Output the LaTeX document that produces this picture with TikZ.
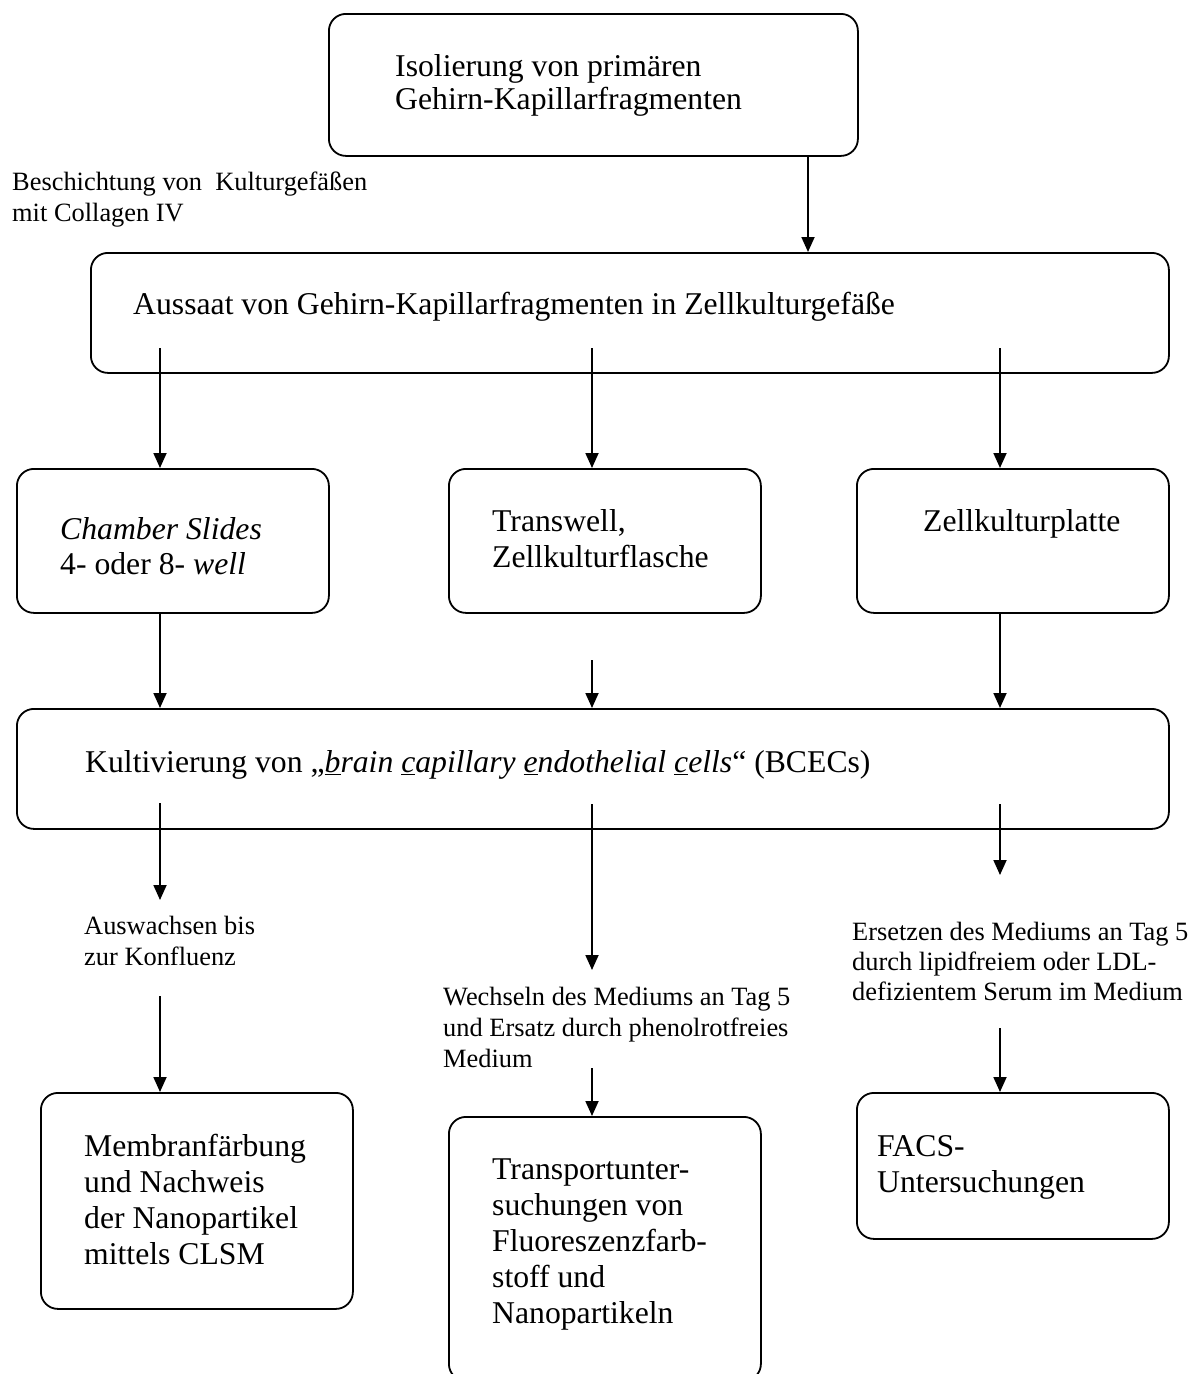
\documentclass[tikz,border=0pt]{standalone}
\usepackage{fontspec}
\setmainfont{Liberation Serif}
\usetikzlibrary{arrows.meta}
\begin{document}
\begin{tikzpicture}[x=1pt,y=-1pt,
  box/.style={draw, line width=1.8pt, rounded corners=17pt, inner sep=0pt, anchor=north west},
  big/.style={inner sep=0pt, anchor=base west, align=left, font=\fontsize{31.7}{36}\selectfont},
  small/.style={inner sep=0pt, anchor=base west, align=left, font=\fontsize{26.4}{31}\selectfont},
  arr/.style={line width=1.8pt, -{Triangle[length=15pt,width=13pt]}}]
\clip (0,0) rectangle (1202,1374);
\fill[white] (0,0) rectangle (1202,1374);
% boxes
\node[box, minimum width=529pt, minimum height=142pt] (iso) at (328,13) {};
\node[box, minimum width=1078pt, minimum height=120pt] (aus) at (90,252) {};
\node[box, minimum width=312pt, minimum height=144pt] (cham) at (16,468) {};
\node[box, minimum width=312pt, minimum height=144pt] (trw) at (448,468) {};
\node[box, minimum width=312pt, minimum height=144pt] (zell) at (856,468) {};
\node[box, minimum width=1152pt, minimum height=120pt] (kult) at (16,708) {};
\node[box, minimum width=312pt, minimum height=216pt] (memb) at (40,1092) {};
\node[box, minimum width=312pt, minimum height=264pt] (trans) at (448,1116) {};
\node[box, minimum width=312pt, minimum height=146pt] (facs) at (856,1092) {};
% texts (anchor = baseline of the last line)
\node[big, font=\fontsize{31.7}{33}\selectfont] (tiso) at (395,109) {Isolierung von primären\\Gehirn-Kapillarfragmenten};
\node[small] (tbes) at (12,221) {Beschichtung von\ \ Kulturgefäßen\\mit Collagen IV};
\node[big] (taus) at (133,314) {Aussaat von Gehirn-Kapillarfragmenten in Zellkulturgefäße};
\node[big, font=\fontsize{31.7}{35}\selectfont] (tcham) at (60,574) {\textit{Chamber Slides}\\4- oder 8- \textit{well}};
\node[big] (ttrw) at (492,567) {Transwell,\\Zellkulturflasche};
\node[big] (tzell) at (923,531) {Zellkulturplatte};
\node[big] (tkult) at (85,772) {Kultivierung von „\textit{\underline{b}rain \underline{c}apillary \underline{e}ndothelial \underline{c}ells}“ (BCECs)};
\node[small] (taus2) at (84,965) {Auswachsen bis\\zur Konfluenz};
\node[small] (twech) at (443,1067) {Wechseln des Mediums an Tag 5\\und Ersatz durch phenolrotfreies\\Medium};
\node[small, font=\fontsize{26.4}{30}\selectfont] (ters) at (852,1000) {Ersetzen des Mediums an Tag 5\\durch lipidfreiem oder LDL-\\defizientem Serum im Medium};
\node[big] (tmemb) at (84,1264) {Membranfärbung\\und Nachweis\\der Nanopartikel\\mittels CLSM};
\node[big] (ttrans) at (492,1323) {Transportunter-\\suchungen von\\Fluoreszenzfarb-\\stoff und\\Nanopartikeln};
\node[big] (tfacs) at (877,1192) {FACS-\\Untersuchungen};
% connector helper coordinates
\coordinate (xa) at (808,0);
\coordinate (xl) at (160,0);
\coordinate (xm) at (592,0);
\coordinate (xr) at (1000,0);
\coordinate (s1) at (160,348);
\coordinate (s2) at (592,348);
\coordinate (s3) at (1000,348);
\coordinate (m1) at (592,660);
\coordinate (k1) at (160,803);
\coordinate (k2) at (592,804);
\coordinate (k3) at (1000,804);
\coordinate (e1) at (160,900);
\coordinate (e2) at (592,970);
\coordinate (e3) at (1000,875);
\coordinate (b1) at (160,996);
\coordinate (b2) at (592,1068);
\coordinate (b3) at (1000,1028);
% connectors
\draw[arr] (iso.south -| xa) -- (aus.north -| xa);
\draw[arr] (s1) -- (cham.north -| s1);
\draw[arr] (s2) -- (trw.north -| s2);
\draw[arr] (s3) -- (zell.north -| s3);
\draw[arr] (cham.south -| xl) -- (kult.north -| xl);
\draw[arr] (m1) -- (kult.north -| m1);
\draw[arr] (zell.south -| xr) -- (kult.north -| xr);
\draw[arr] (k1) -- (e1);
\draw[arr] (k2) -- (e2);
\draw[arr] (k3) -- (e3);
\draw[arr] (b1) -- (memb.north -| b1);
\draw[arr] (b2) -- (trans.north -| b2);
\draw[arr] (b3) -- (facs.north -| b3);
\end{tikzpicture}
\end{document}
